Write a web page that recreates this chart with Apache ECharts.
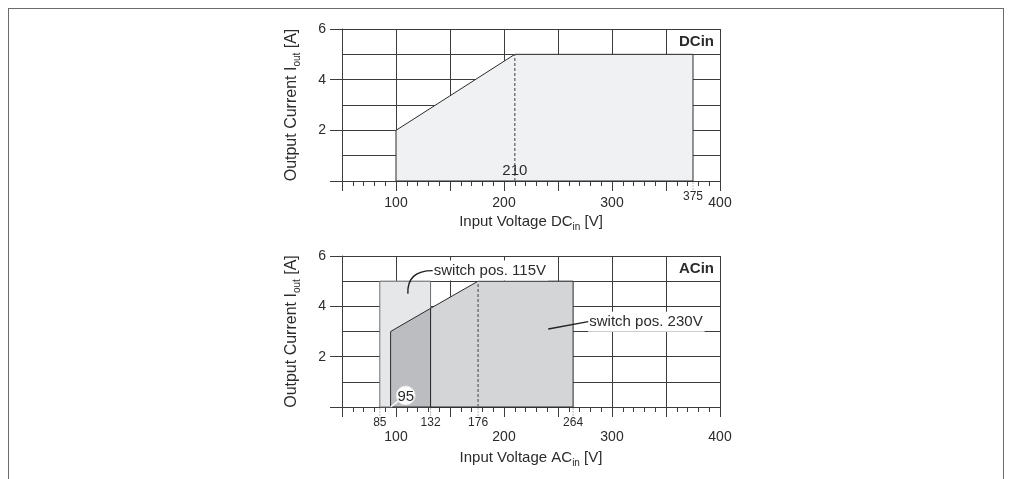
<!DOCTYPE html>
<html>
<head>
    <meta charset="UTF-8">
    <title>Derating DCin / ACin</title>
    <style>
        html, body {
            margin: 0;
            padding: 0;
            background-color: #FFF;
        }

        #frame {
            position: absolute;
            left: 8px;
            top: 8px;
            width: 994px;
            height: 480px;
            border: 1px solid #6b6b6b;
            border-bottom: none;
        }

        #main {
            position: absolute;
            left: 0;
            top: 0;
            width: 1011px;
            height: 479px;
        }
    </style>
</head>
<body>
<div id="frame"></div>
<div id="main"></div>

<script src="https://cdn.jsdelivr.net/npm/echarts@6/dist/echarts.min.js"></script>
<script type="text/javascript">
    // 数据: 电压 [V] / 电流 [A]
    var xLabels = [100, 200, 300, 400];
    var yLabels = [2, 4, 6];

    // DCin 工作区
    var dcVoltage = [100, 100, 210, 375, 375];
    var dcCurrent = [0, 2, 5, 5, 0];
    var dcKnee = 210;
    var dcKneeCurrent = 5;
    var dcMarks = [375];

    // ACin 工作区
    var ac115Voltage = [85, 85, 132, 132];
    var ac115Current = [0, 5, 5, 0];
    var acLowVoltage = [95, 95, 132, 132];
    var acLowCurrent = [0, 3, 3.92, 0];
    var acHighVoltage = [132, 132, 176, 264, 264];
    var acHighCurrent = [0, 3.92, 5, 5, 0];
    var acKnee = 176;
    var acKneeCurrent = 5;
    var acMarks = [85, 132, 176, 264];

    var FONT = "'Liberation Sans', Arial, sans-serif";
    var TEXT = '#2b2b2b';
    var LINE = '#3c3c3c';

    function polygon(idx, xs, ys, fill, stroke) {
        return {
            type: 'custom',
            xAxisIndex: idx,
            yAxisIndex: idx,
            silent: true,
            data: [[xs[0], ys[0]]],
            renderItem: function (params, api) {
                var pts = xs.map(function (x, i) {
                    return api.coord([x, ys[i]]);
                });
                return {
                    type: 'polygon',
                    shape: {points: pts},
                    style: {fill: fill, stroke: stroke, lineWidth: 1}
                };
            }
        };
    }

    function dashed(idx, x, top) {
        return {
            type: 'custom',
            xAxisIndex: idx,
            yAxisIndex: idx,
            silent: true,
            z: 5,
            data: [[x, top]],
            renderItem: function (params, api) {
                var a = api.coord([x, 0]);
                var b = api.coord([x, top]);
                return {
                    type: 'line',
                    shape: {x1: a[0], y1: a[1], x2: b[0], y2: b[1]},
                    style: {stroke: '#666', lineWidth: 1.3, lineDash: [3, 2]}
                };
            }
        };
    }

    // 坐标轴下方的附加刻度值
    function markLabels(idx, marks, size) {
        return {
            type: 'custom',
            xAxisIndex: idx,
            yAxisIndex: idx,
            silent: true,
            data: marks.map(function (m) { return [m, 0]; }),
            renderItem: function (params, api) {
                var v = api.value(0);
                var p = api.coord([v, 0]);
                return {
                    type: 'group',
                    children: [{
                        type: 'line',
                        shape: {x1: p[0], y1: p[1] + 1, x2: p[0], y2: p[1] + 11},
                        style: {stroke: '#bbb', lineWidth: 1, lineDash: [2, 1]}
                    }, {
                        type: 'text',
                        style: {
                            text: String(v), x: p[0], y: p[1] + 16,
                            align: 'center', verticalAlign: 'middle',
                            fill: TEXT, font: size + 'px ' + FONT
                        }
                    }]
                };
            }
        };
    }

    function textAt(idx, x, y, text, opt) {
        return {
            type: 'custom',
            xAxisIndex: idx,
            yAxisIndex: idx,
            silent: true,
            z: 10,
            data: [[x, y]],
            renderItem: function (params, api) {
                var p = api.coord([x, y]);
                return {
                    type: 'text',
                    style: Object.assign({
                        text: text, x: p[0] + (opt.dx || 0), y: p[1] + (opt.dy || 0),
                        align: 'center', verticalAlign: 'middle',
                        fill: TEXT, font: '14px ' + FONT
                    }, opt.style || {})
                };
            }
        };
    }

    // 引线标注
    function callout(idx, from, to, ctrl, text) {
        return {
            type: 'custom',
            xAxisIndex: idx,
            yAxisIndex: idx,
            silent: true,
            z: 10,
            data: [from],
            renderItem: function (params, api) {
                var a = api.coord(from);
                var b = api.coord(to);
                var c = ctrl ? api.coord(ctrl) : null;
                var lead = c ? {
                    type: 'bezierCurve',
                    shape: {x1: a[0], y1: a[1], x2: b[0], y2: b[1], cpx1: c[0], cpy1: c[1]},
                    style: {stroke: '#222', lineWidth: 1.4, fill: null}
                } : {
                    type: 'line',
                    shape: {x1: a[0], y1: a[1], x2: b[0], y2: b[1]},
                    style: {stroke: '#222', lineWidth: 1.4}
                };
                return {
                    type: 'group',
                    children: [{
                        type: 'text',
                        style: {
                            text: text, x: a[0], y: a[1],
                            align: 'left', verticalAlign: 'middle',
                            fill: TEXT, font: '15px ' + FONT,
                            backgroundColor: '#fff', padding: [3, 2, 2, 1]
                        }
                    }, lead]
                };
            }
        };
    }

    function bubble95(idx, x, circleAt) {
        return {
            type: 'custom',
            xAxisIndex: idx,
            yAxisIndex: idx,
            silent: true,
            z: 10,
            data: [[x, 0]],
            renderItem: function (params, api) {
                var a = api.coord([x, 0]);
                var c = api.coord(circleAt);
                return {
                    type: 'group',
                    children: [{
                        type: 'line',
                        shape: {x1: a[0], y1: a[1], x2: c[0], y2: c[1]},
                        style: {stroke: '#fff', lineWidth: 1.5}
                    }, {
                        type: 'circle',
                        shape: {cx: c[0], cy: c[1], r: 9.5},
                        style: {fill: '#fff', stroke: '#e2e2e2', lineWidth: 1}
                    }, {
                        type: 'text',
                        style: {
                            text: String(x), x: c[0], y: c[1] + 1,
                            align: 'center', verticalAlign: 'middle',
                            fill: TEXT, font: '15px ' + FONT
                        }
                    }]
                };
            }
        };
    }

    function xAxis(idx, sub, margin, gap) {
        return {
            type: 'value',
            gridIndex: idx,
            min: 50,
            max: 400,
            interval: 50,
            name: '{a|Input Voltage ' + sub + '}{s|in}{a| [V]}',
            nameLocation: 'middle',
            nameGap: gap,
            nameTextStyle: {
                rich: {
                    a: {fontSize: 15, fontFamily: FONT, color: TEXT, lineHeight: 20},
                    s: {fontSize: 10, fontFamily: FONT, color: TEXT, lineHeight: 10, verticalAlign: 'bottom'}
                }
            },
            axisLine: {show: true, onZero: false, lineStyle: {color: LINE, width: 1}},
            axisTick: {show: true, inside: false, length: 10, lineStyle: {color: LINE}},
            minorTick: {show: true, splitNumber: 5, length: 5, lineStyle: {color: LINE}},
            axisLabel: {
                margin: margin,
                color: TEXT,
                fontSize: 14,
                fontFamily: FONT,
                formatter: function (v) {
                    return xLabels.indexOf(v) >= 0 ? String(v) : '';
                }
            },
            splitLine: {show: true, lineStyle: {color: LINE, width: 1}},
            minorSplitLine: {show: false}
        };
    }

    // 网格用的y轴 (每 1 A 一条线)
    function yGridAxis(idx) {
        return {
            type: 'value',
            gridIndex: idx,
            position: 'left',
            offset: 0,
            min: 0,
            max: 6,
            interval: 1,
            name: '{a|Output Current I}{s|out}{a| [A]}',
            nameLocation: 'middle',
            nameGap: 40,
            nameRotate: 90,
            nameTextStyle: {
                rich: {
                    a: {fontSize: 16, fontFamily: FONT, color: TEXT, lineHeight: 20},
                    s: {fontSize: 10, fontFamily: FONT, color: TEXT, lineHeight: 10, verticalAlign: 'bottom'}
                }
            },
            axisLine: {show: true, lineStyle: {color: LINE, width: 1}},
            axisTick: {show: false},
            axisLabel: {show: false},
            splitLine: {show: true, lineStyle: {color: LINE, width: 1}}
        };
    }

    // 刻度与标签用的y轴 (每 2 A)
    function yTickAxis(idx) {
        return {
            type: 'value',
            gridIndex: idx,
            position: 'left',
            offset: 0,
            min: 0,
            max: 6,
            interval: 2,
            axisLine: {show: false},
            axisTick: {show: true, length: 12, lineStyle: {color: LINE}},
            axisLabel: {
                margin: 16,
                color: TEXT,
                fontSize: 14,
                fontFamily: FONT,
                formatter: function (v) {
                    return yLabels.indexOf(v) >= 0 ? String(v) : '';
                }
            },
            splitLine: {show: false}
        };
    }

    var mOptions = {
        animation: false,
        grid: [
            {left: 342, top: 29, width: 378, height: 152},
            {left: 342, top: 256, width: 378, height: 151}
        ],
        xAxis: [xAxis(0, 'DC', 15, 31), xAxis(1, 'AC', 23, 41)],
        yAxis: [yGridAxis(0), yGridAxis(1), yTickAxis(0), yTickAxis(1)],
        series: [
            // DCin
            polygon(0, dcVoltage, dcCurrent, '#f0f1f3', '#2a2a2a'),
            dashed(0, dcKnee, dcKneeCurrent),
            textAt(0, dcKnee, 0.42, String(dcKnee), {style: {font: '15px ' + FONT}}),
            markLabels(0, dcMarks, 12),
            textAt(0, 400, 5.5, 'DCin', {dx: -6, style: {align: 'right', font: 'bold 15px ' + FONT}}),

            // ACin
            polygon(1, ac115Voltage, ac115Current, '#e6e7e9', '#707070'),
            polygon(1, acHighVoltage, acHighCurrent, '#d4d5d7', '#2a2a2a'),
            polygon(1, acLowVoltage, acLowCurrent, '#bcbdc0', '#2a2a2a'),
            dashed(1, acKnee, acKneeCurrent),
            markLabels(1, acMarks, 12),
            callout(1, [134, 5.42], [111, 4.5], [110, 5.42], 'switch pos. 115V'),
            callout(1, [278, 3.39], [241, 3.1], null, 'switch pos. 230V'),
            bubble95(1, 95, [109, 0.46]),
            textAt(1, 400, 5.5, 'ACin', {dx: -6, style: {align: 'right', font: 'bold 15px ' + FONT}})
        ]
    };

    var mCharts = echarts.init(document.getElementById('main'));
    mCharts.setOption(mOptions);
</script>
</body>
</html>
